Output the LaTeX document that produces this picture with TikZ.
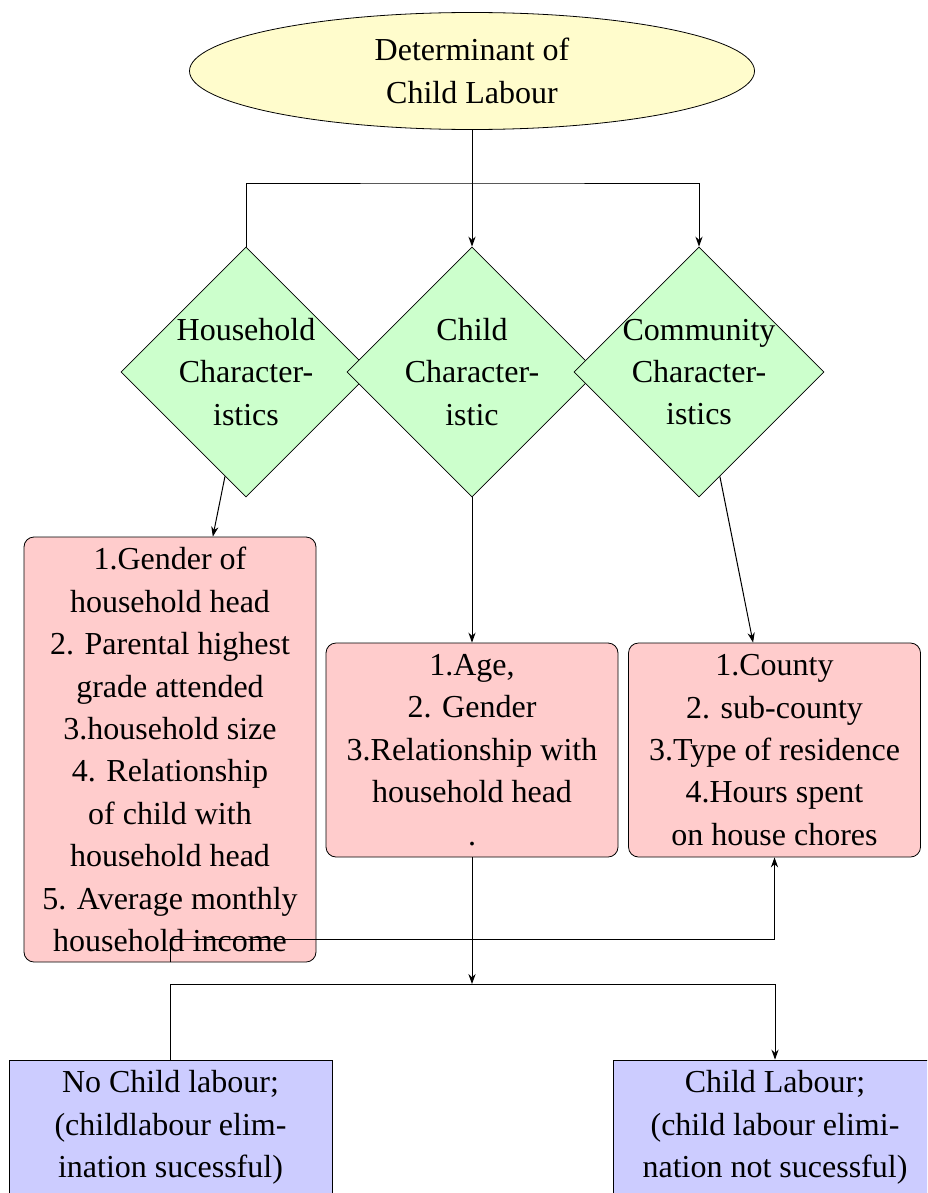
\documentclass[tikz,border=0pt]{standalone}
\usepackage{fontspec}
\setmainfont{Liberation Serif}
\usetikzlibrary{shapes.geometric,arrows.meta}
\begin{document}
\begin{tikzpicture}[x=0.5pt,y=-0.5pt,
  every node/.style={font=\fontsize{16}{21.2}\selectfont},
  >={Stealth[length=5pt,width=3.6pt]},
  rootbox/.style={ellipse,draw,fill=yellow!20,minimum width=282.5pt,minimum height=58.5pt,inner sep=0pt,align=center},
  dia/.style={diamond,draw,fill=green!20,minimum width=125pt,minimum height=125pt,inner sep=0pt},
  dlabel/.style={align=center,inner sep=0pt},
  itembox/.style={rectangle,rounded corners=5pt,draw,fill=red!20,minimum width=146pt,inner sep=1pt,align=center},
  outbox/.style={rectangle,draw,fill=blue!20,minimum width=161.5pt,minimum height=67.5pt,inner sep=1pt,align=center},
  conn/.style={draw,line width=0.5pt}
]
\clip (0,0) rectangle (927,1193);

\node[rootbox] (root) at (472,71) {Determinant of\\Child Labour};

\node[dia,label={[dlabel]center:Household\\Character-\\istics}] (hd) at (246,372) {};
\node[dia,label={[dlabel]center:Child\\Character-\\istic}] (cd) at (472,372) {};
\node[dia,label={[dlabel]center:Community\\Character-\\istics}] (cmd) at (699,372) {};

\node[itembox,minimum height=212.5pt] (hhbox) at (170,749.5) {1.Gender of\\household head\\2. Parental highest\\grade attended\\3.household size\\4. Relationship\\of child with\\household head\\5. Average monthly\\household income};
\node[itembox,minimum height=107pt] (cbox) at (472,750) {1.Age,\\2. Gender\\3.Relationship with\\household head\\.};
\node[itembox,minimum height=107pt] (cmbox) at (774.5,750) {1.County\\2. sub-county\\3.Type of residence\\4.Hours spent\\on house chores};

\node[outbox] (nocl) at (170.5,1127.5) {No Child labour;\\(childlabour elim-\\ination sucessful)};
\node[outbox] (cl) at (775,1127.5) {Child Labour;\\(child labour elimi-\\nation not sucessful)};

\coordinate (j1) at (472,183);
\coordinate (j2) at (472,939);
\coordinate (j3) at (472,984);

\draw[conn,->] (root) -- (cd);
\draw[conn,->] (hd.north) |- (j1) -| (cmd.north);
\draw[conn,->] (hd) -- (hhbox);
\draw[conn,->] (cd) -- (cbox);
\draw[conn,->] (cmd) -- (cmbox);
\draw[conn,->] (hhbox.south) |- (j2) -| (cmbox.south);
\draw[conn,->] (cbox.south) -- (j3);
\draw[conn,->] (nocl.north) |- (j3) -| (cl.north);
\end{tikzpicture}
\end{document}
